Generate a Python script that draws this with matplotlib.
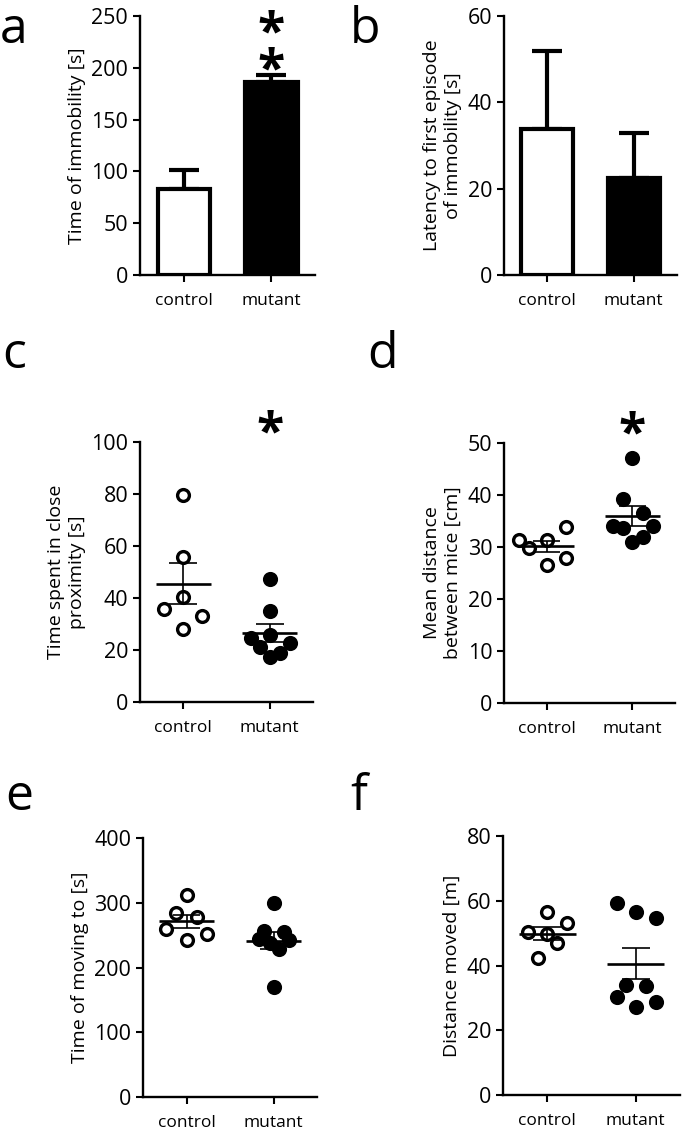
import matplotlib
matplotlib.use("Agg")
import matplotlib.pyplot as plt
import numpy as np

plt.rcParams['font.family'] = ['Open Sans', 'DejaVu Sans']

groups = ['control', 'mutant']

# a - time of immobility (bar, mean + SEM)
a_mean = [83, 186]
a_sem = [18, 7]
# b - latency to first immobility
b_mean = [33.8, 22.5]
b_sem = [18, 10.5]

# c - time in close proximity [s]
c_ctrl = [79.7, 55.8, 40.4, 35.9, 33.0, 28.2]
c_mut = [47.3, 35.1, 25.8, 24.5, 22.8, 21.0, 18.7, 17.4]
# d - mean distance between mice [cm]
d_ctrl = [31.3, 29.8, 31.3, 33.8, 26.6, 27.9]
d_mut = [47.2, 39.2, 36.6, 34.0, 34.0, 33.6, 32.0, 31.0]
# e - time of moving [s]
e_ctrl = [312.5, 284, 278, 260, 252, 242]
e_mut = [299, 257, 254.5, 243.5, 242.5, 237.4, 228.6, 170]
# f - distance moved [m]
f_ctrl = [56.6, 53.0, 50.3, 49.7, 46.9, 42.2]
f_mut = [59.2, 54.6, 56.4, 34.0, 33.8, 30.4, 27.3, 28.8]

# horizontal spread of the dots (layout only)
c_off = ([0, 0, 0, -0.22, 0.22, 0], [0, 0, 0, -0.22, 0.23, -0.11, 0.115, 0])
d_off = ([-0.33, -0.21, 0, 0.22, 0, 0.22], [0, -0.11, 0.12, -0.23, 0.24, -0.11, 0.12, 0])
e_off = ([0, -0.115, 0.115, -0.23, 0.23, 0], [0, -0.11, 0.12, -0.17, 0.18, -0.04, 0.06, 0])
f_off = ([0, 0.22, -0.22, 0, 0.11, -0.1], [-0.21, 0.23, 0, -0.105, 0.115, -0.21, 0, 0.23])

W, H = 685, 1131
fig = plt.figure(figsize=(W / 100, H / 100), dpi=100)


def make_ax(x0, x1, ytop, ybot):
    ax = fig.add_axes([x0 / W, 1 - ybot / H, (x1 - x0) / W, (ybot - ytop) / H])
    for s in ['top', 'right']:
        ax.spines[s].set_visible(False)
    for s in ['left', 'bottom']:
        ax.spines[s].set_linewidth(1.7)
    ax.tick_params(direction='out', length=5, width=1.5, labelsize=15.5)
    ax.tick_params(axis='x', labelsize=12.5, pad=8)
    ax.set_xlim(-0.5, 1.5)
    ax.set_xticks([0, 1])
    ax.set_xticklabels(groups)
    ax.set_facecolor('none')
    return ax


def bars(ax, mean, sem):
    ax.bar([0, 1], mean, width=0.6, color=['white', 'black'], edgecolor='black',
           linewidth=3, zorder=2)
    ax.errorbar([0, 1], mean, yerr=[[0, 0], sem], fmt='none', ecolor='black',
                elinewidth=3, capsize=11, capthick=3, zorder=1)


def dots(ax, ctrl, mut, offs):
    for i, (vals, fill) in enumerate([(ctrl, 'white'), (mut, 'black')]):
        vals = np.array(vals)
        ax.plot(i + np.array(offs[i]), vals, 'o', ms=8.5, mfc=fill, mec='black',
                mew=2.4, zorder=3, clip_on=False)
        m = vals.mean()
        se = vals.std(ddof=1) / np.sqrt(len(vals))
        ax.hlines(m, i - 0.32, i + 0.32, color='black', lw=1.9, zorder=4)
        ax.vlines(i, m - se, m + se, color='black', lw=1.2, zorder=4)
        ax.hlines([m - se, m + se], i - 0.16, i + 0.16, color='black', lw=1.2, zorder=4)


def star(ax, x, y, txt='*'):
    ax.text(x, y, txt, ha='center', va='center', fontsize=36, fontweight='bold',
            linespacing=0.66, clip_on=False)


# a
ax = make_ax(140, 315, 16, 275)
bars(ax, a_mean, a_sem)
ax.set_ylim(0, 250)
ax.set_yticks([0, 50, 100, 150, 200, 250])
ax.set_ylabel('Time of immobility [s]', fontsize=14)
star(ax, 1, 214, '*\n*')

# b
ax = make_ax(504, 677, 16, 275)
bars(ax, b_mean, b_sem)
ax.set_ylim(0, 60)
ax.set_yticks([0, 20, 40, 60])
ax.set_ylabel('Latency to first episode\nof immobility [s]', fontsize=14)

# c
ax = make_ax(140, 313, 442, 702)
dots(ax, c_ctrl, c_mut, c_off)
ax.set_ylim(0, 100)
ax.set_yticks([0, 20, 40, 60, 80, 100])
ax.set_ylabel('Time spent in close\nproximity [s]', fontsize=14)
star(ax, 1, 103)

# d
ax = make_ax(504, 675, 443, 703)
dots(ax, d_ctrl, d_mut, d_off)
ax.set_ylim(0, 50)
ax.set_yticks([0, 10, 20, 30, 40, 50])
ax.set_ylabel('Mean distance\nbetween mice [cm]', fontsize=14)
star(ax, 1, 51.5)

# e
ax = make_ax(143, 317, 838, 1097)
dots(ax, e_ctrl, e_mut, e_off)
ax.set_ylim(0, 400)
ax.set_yticks([0, 100, 200, 300, 400])
ax.set_ylabel('Time of moving to [s]', fontsize=14)

# f
ax = make_ax(503, 680, 836, 1095)
dots(ax, f_ctrl, f_mut, f_off)
ax.set_ylim(0, 80)
ax.set_yticks([0, 20, 40, 60, 80])
ax.set_ylabel('Distance moved [m]', fontsize=14)

# panel letters
for letter, x, y in [('a', 0, 43), ('b', 350, 43), ('c', 2, 368), ('d', 367, 368),
                     ('e', 5, 810), ('f', 350, 810)]:
    fig.text(x / W, 1 - y / H, letter, fontsize=36, ha='left', va='baseline')

fig.savefig('out.png', dpi=100)
